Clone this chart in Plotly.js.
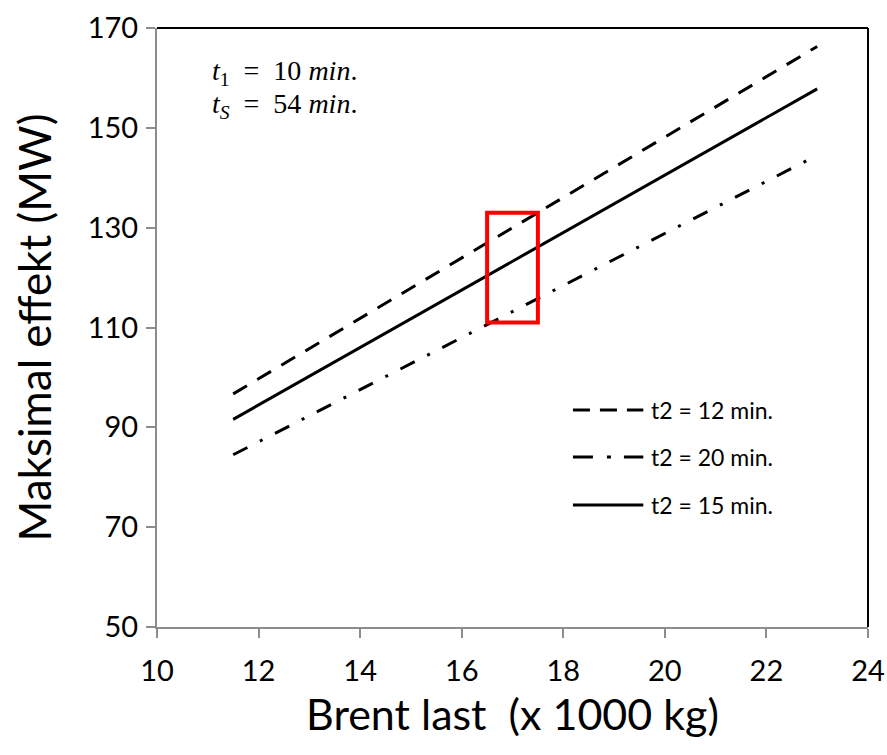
<!DOCTYPE html>
<html>
<head>
<meta charset="utf-8">
<script src="https://cdn.plot.ly/plotly-3.0.1.min.js"></script>
<style>html,body{margin:0;padding:0;background:#fff;}#chart{width:887px;height:755px;}</style>
</head>
<body>
<div id="chart"></div>
<script>
// Data
const xLoad = [11.5, 23];
const yT12 = [96.7, 166.3];   // t2 = 12 min. (dashed)
const yT20 = [84.5, 144.5];   // t2 = 20 min. (dash-dot)
const yT15 = [91.6, 157.8];   // t2 = 15 min. (solid)
const seriesNames = ['t2 = 12 min.', 't2 = 20 min.', 't2 = 15 min.'];
const highlightX = [16.5, 17.5];
const highlightY = [111, 133];
const xTicks = [10, 12, 14, 16, 18, 20, 22, 24];
const yTicks = [50, 70, 90, 110, 130, 150, 170];

const FONT = 'Lato, "Open Sans", sans-serif';
const DASH12 = '16px,12px';
const DASH20 = '16px,14px,3px,14px';
const DASH12_LEG = '17px,10px';
const DASH20_LEG = '20px,14px,4px,13px';

const traces = [
  {x: xLoad, y: yT12, name: seriesNames[0], mode: 'lines', line: {color: '#000', width: 3, dash: DASH12}},
  {x: xLoad, y: yT20, name: seriesNames[1], mode: 'lines', line: {color: '#000', width: 3, dash: DASH20}},
  {x: xLoad, y: yT15, name: seriesNames[2], mode: 'lines', line: {color: '#000', width: 3}}
];

// custom legend (layout positions in paper coordinates)
const legX0 = 0.585, legX1 = 0.684, legTextX = 0.692;
const legY = [0.3623, 0.2838, 0.2037];
const legDash = [DASH12_LEG, DASH20_LEG, 'solid'];

const shapes = [
  {type: 'line', xref: 'paper', yref: 'paper', x0: 0, x1: 1, y0: 1, y1: 1, line: {color: '#000', width: 2}},
  {type: 'line', xref: 'paper', yref: 'paper', x0: 1, x1: 1, y0: 0, y1: 1, line: {color: '#000', width: 2}},
  {type: 'rect', xref: 'x', yref: 'y', x0: highlightX[0], x1: highlightX[1], y0: highlightY[0], y1: highlightY[1],
   line: {color: '#ff0000', width: 4}}
];
const annotations = [
  {xref: 'paper', yref: 'paper', x: 0.0745, y: 0.9265, xanchor: 'left', yanchor: 'middle', showarrow: false,
   text: '<i>t</i><sub>1</sub>&nbsp;&nbsp;=&nbsp;&nbsp;10&nbsp;<i>min</i>.', font: {family: '"Liberation Serif", serif', size: 28, color: '#000'}},
  {xref: 'paper', yref: 'paper', x: 0.0745, y: 0.8698, xanchor: 'left', yanchor: 'middle', showarrow: false,
   text: '<i>t</i><sub><i>S</i></sub>&nbsp;&nbsp;=&nbsp;&nbsp;54&nbsp;<i>min</i>.', font: {family: '"Liberation Serif", serif', size: 28, color: '#000'}}
];
seriesNames.forEach((n, i) => {
  shapes.push({type: 'line', xref: 'paper', yref: 'paper', x0: legX0, x1: legX1, y0: legY[i], y1: legY[i],
               line: {color: '#000', width: 3, dash: legDash[i]}});
  annotations.push({xref: 'paper', yref: 'paper', x: legTextX, y: legY[i], xanchor: 'left', yanchor: 'middle',
                    showarrow: false, text: n, font: {family: FONT, size: 23, color: '#000'}});
});

const layout = {
  width: 887, height: 755,
  margin: {l: 157, r: 19, t: 28, b: 128},
  paper_bgcolor: '#fff', plot_bgcolor: '#fff',
  font: {family: FONT, color: '#000'},
  showlegend: false,
  xaxis: {range: [10, 24], tickvals: xTicks, ticktext: xTicks.map(String),
          showgrid: false, zeroline: false, showline: true, linecolor: '#8c8c8c', linewidth: 2,
          ticks: 'outside', ticklen: 9, tickwidth: 2, tickcolor: '#8c8c8c', ticklabelstandoff: 8,
          tickfont: {family: FONT, size: 29, color: '#000'},
          title: {text: 'Brent last&nbsp;&nbsp;(x 1000 kg)', font: {family: FONT, size: 43, color: '#000'}, standoff: 14}},
  yaxis: {range: [50, 170], tickvals: yTicks, ticktext: yTicks.map(String),
          showgrid: false, zeroline: false, showline: true, linecolor: '#8c8c8c', linewidth: 2,
          ticks: 'outside', ticklen: 9, tickwidth: 2, tickcolor: '#8c8c8c', ticklabelstandoff: 2,
          tickfont: {family: FONT, size: 29, color: '#000'},
          title: {text: 'Maksimal effekt (MW)', font: {family: FONT, size: 44, color: '#000'}, standoff: 22}},
  shapes: shapes,
  annotations: annotations
};

Plotly.newPlot('chart', traces, layout, {displayModeBar: false, staticPlot: true});
</script>
</body>
</html>
